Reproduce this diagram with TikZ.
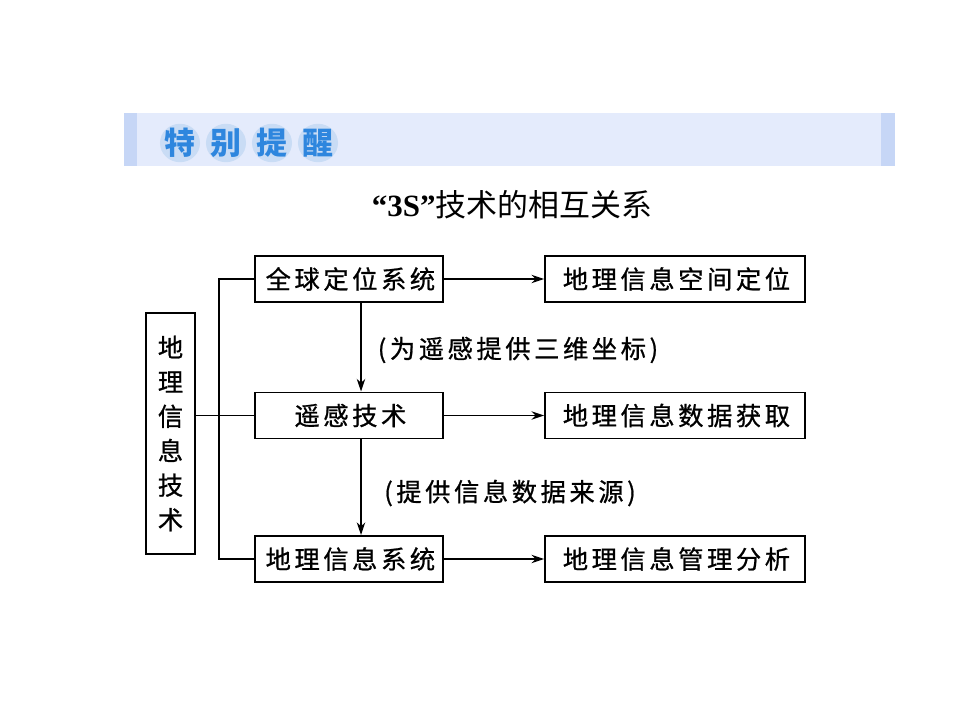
\documentclass[tikz,border=0pt]{standalone}
\usepackage{fontspec}
\setmainfont{Liberation Serif}
\newfontfamily\cjk{Noto Sans CJK SC}
\newfontfamily\cjkbox[FakeBold=0.8]{Noto Sans CJK SC}
\newfontfamily\cjkwide[LetterSpace=14,FakeBold=0.8]{Noto Sans CJK SC}
\usepackage{tikz}
\usetikzlibrary{positioning}
\usetikzlibrary{arrows.meta}
\definecolor{bandblue}{HTML}{E4EBFC}
\definecolor{stripblue}{HTML}{C6D6F6}
\definecolor{discblue}{HTML}{C9DCF5}
\definecolor{inkblue}{HTML}{2E86DE}
\tikzset{	node distance=2.5cm,
	sysbox/.style={
		draw, line width=1.4pt,
		inner sep=0pt,
		minimum width=4.7cm, minimum height=1.15cm,
		font=\cjkwide\fontsize{18}{20}\selectfont},
	usebox/.style={
		sysbox,
		minimum width=6.5cm},
	note/.style={
		inner sep=0pt,
		font=\cjkwide\fontsize{18}{20}\selectfont},
	every edge/.style={
		draw,
		-{Stealth[length=9pt,width=6pt]},
		line width=1pt}
}

\begin{document}
\begin{tikzpicture}[x=0.025cm, y=-0.025cm]
	\useasboundingbox (0,0) rectangle (960,720);
	% banner
	\fill[bandblue] (124,113) rectangle (895,166);
	\fill[stripblue] (124,113) rectangle (137,166);
	\fill[stripblue] (881,113) rectangle (895,166);
	\foreach \cx/\ch in {180/特, 226/别, 272/提, 318/醒} {
		\fill[discblue] (\cx,143) ellipse [x radius=0.5cm, y radius=0.48cm];
		\node[text=inkblue, font=\cjk\bfseries\fontsize{22}{24}\selectfont] at (\cx,143) {\ch};
	}
	\node[font=\fontsize{22}{24}\selectfont] (title) at (512,205) {\textbf{“3S”}{\cjk 技术的相互关系}};
	% boxes
	\node[sysbox] (gps) at (349,279) {\hspace{2pt}全球定位系统};
	\node[sysbox] (rs) at (349,415.5) {\hspace{2pt}遥感技术};
	\node[sysbox] (gis) at (349,559) {\hspace{2pt}地理信息系统};
	\node[usebox, right=of gps] (locate) {\hspace{2pt}地理信息空间定位};
	\node[usebox, right=of rs] (acquire) {\hspace{2pt}地理信息数据获取};
	\node[usebox, right=of gis] (manage) {\hspace{2pt}地理信息管理分析};
	\node[draw, line width=1.4pt, inner sep=0pt, minimum width=1.225cm, minimum height=6.025cm,
		align=center, font=\cjkbox\fontsize{18}{24.5}\selectfont] (geo) at (170.5,433.5)
		{地\\理\\信\\息\\技\\术};
	\node[note] (coord) at (518,350) {(为遥感提供三维坐标)};
	\node[note] (source) at (510,493) {(提供信息数据来源)};
	% connectors
	\coordinate (bus) at (219,415.5);
	\draw[line width=1.4pt] (geo.east |- rs.west) -- (rs.west);
	\draw[line width=1.4pt] (gps.west) -| (bus) |- (gis.west);
	\draw (gps) edge (locate);
	\draw (rs) edge (acquire);
	\draw (gis) edge (manage);
	\draw ([xshift=0.3cm]gps.south) edge ([xshift=0.3cm]rs.north);
	\draw ([xshift=0.3cm]rs.south) edge ([xshift=0.3cm]gis.north);
\end{tikzpicture}
\end{document}
